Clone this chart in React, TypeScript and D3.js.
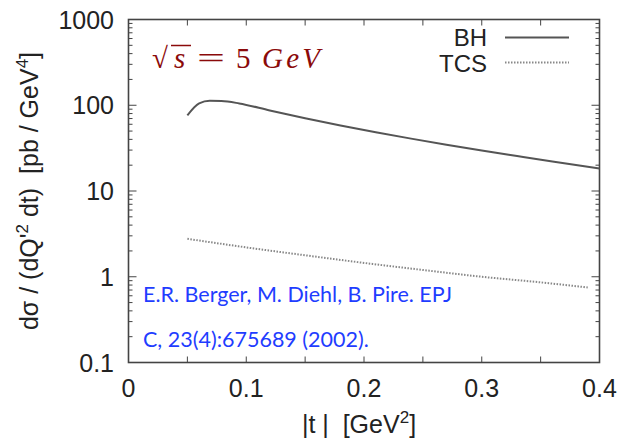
import React from "react";
import * as d3 from "d3";

const bhT = [0.05, 0.06, 0.069, 0.079, 0.094, 0.12, 0.15, 0.18, 0.21, 0.24, 0.27, 0.3, 0.33, 0.36, 0.4];
const bhV = [76, 105, 112.5, 112, 105, 86.9, 70.6, 58.2, 48.5, 40.8, 34.7, 29.7, 25.6, 22.1, 18.3];
const tcsT = [0.05, 0.1, 0.15, 0.2, 0.25, 0.3, 0.35, 0.39];
const tcsV = [2.77, 2.2, 1.78, 1.45, 1.2, 1.0, 0.86, 0.75];
const xTickLabels = [0, 0.1, 0.2, 0.3, 0.4];
const xTickMinor = [0, 0.05, 0.1, 0.15, 0.2, 0.25, 0.3, 0.35, 0.4];
const yTickLabels = [0.1, 1, 10, 100, 1000];
const legendNames = ["BH", "TCS"];

const W = 617, H = 438;
const L = 128.5, R = 599.5, T = 19.5, B = 362.5;

export default function App() {
  const x = d3.scaleLinear().domain([0, 0.4]).range([L, R]);
  const y = d3.scaleLog().domain([0.1, 1000]).range([B, T]);
  const line = d3.line<[number, number]>().x(d => x(d[0])).y(d => y(d[1])).curve(d3.curveMonotoneX);
  const bh = bhT.map((t, i) => [t, bhV[i]] as [number, number]);
  const tcs = tcsT.map((t, i) => [t, tcsV[i]] as [number, number]);
  const minor: number[] = [];
  for (let e = -1; e < 3; e++) for (let k = 2; k <= 9; k++) minor.push(k * Math.pow(10, e));
  const frame = "#444";
  const sans = "'Liberation Sans', Arial, Helvetica, sans-serif";
  const fmt = (v: number) => (v === 0 ? "0" : String(v));
  return (
    <svg width={W} height={H} style={{ position: "absolute", left: 0, top: 0 }}>
      <rect x={0} y={0} width={W} height={H} fill="#fff" />
      {xTickMinor.map((t, i) => (
        <g key={"xt" + i} stroke={frame} strokeWidth={1}>
          <line x1={x(t)} x2={x(t)} y1={B} y2={B - 6} />
          <line x1={x(t)} x2={x(t)} y1={T} y2={T + 6} />
        </g>
      ))}
      {yTickLabels.map((v, i) => (
        <g key={"yt" + i} stroke={frame} strokeWidth={1}>
          <line x1={L} x2={L + 8} y1={y(v)} y2={y(v)} />
          <line x1={R} x2={R - 8} y1={y(v)} y2={y(v)} />
        </g>
      ))}
      {minor.map((v, i) => (
        <g key={"ym" + i} stroke={frame} strokeWidth={1}>
          <line x1={L} x2={L + 4} y1={y(v)} y2={y(v)} />
          <line x1={R} x2={R - 4} y1={y(v)} y2={y(v)} />
        </g>
      ))}
      <rect x={L} y={T} width={R - L} height={B - T} fill="none" stroke={frame} strokeWidth={1.6} />
      {xTickLabels.map((t, i) => (
        <text key={"xl" + i} x={x(t)} y={397} textAnchor="middle" fontFamily={sans} fontSize={25} fill="#222">{fmt(t)}</text>
      ))}
      {yTickLabels.map((v, i) => (
        <text key={"yl" + i} x={114} y={y(v) + 9} textAnchor="end" fontFamily={sans} fontSize={25} fill="#222">{fmt(v)}</text>
      ))}
      <text x={359} y={433} textAnchor="middle" fontFamily={sans} fontSize={25} fill="#222" xmlSpace="preserve">
        |t |  [GeV<tspan dy={-10} fontSize={17}>2</tspan><tspan dy={10}>]</tspan>
      </text>
      <text transform="translate(38,191) rotate(-90)" textAnchor="middle" fontFamily={sans} fontSize={25} fill="#222" xmlSpace="preserve">
        dσ / (dQ'<tspan dy={-10} fontSize={17}>2</tspan><tspan dy={10}> dt)  [pb / GeV</tspan><tspan dy={-10} fontSize={17}>4</tspan><tspan dy={10}>]</tspan>
      </text>
      <path d={line(bh) || ""} fill="none" stroke="#555" strokeWidth={2} />
      <path d={line(tcs) || ""} fill="none" stroke="#888" strokeWidth={2} strokeDasharray="1.5,1.5" />
      <text x={487} y={46} textAnchor="end" fontFamily={sans} fontSize={24} fill="#222">{legendNames[0]}</text>
      <line x1={505} x2={569} y1={37.5} y2={37.5} stroke="#555" strokeWidth={2} />
      <text x={487} y={72} textAnchor="end" fontFamily={sans} fontSize={24} fill="#222">{legendNames[1]}</text>
      <line x1={505} x2={569} y1={62.5} y2={62.5} stroke="#888" strokeWidth={2} strokeDasharray="1.5,1.5" />
      <g fill="#8b0a0a" fontFamily="Liberation Serif, DejaVu Serif, serif" fontSize={29}>
        <text x={152} y={68}>√</text>
        <line x1={171} x2={191} y1={45.5} y2={45.5} stroke="#8b0a0a" strokeWidth={1.5} />
        <text x={174} y={68} fontStyle="italic">s</text>
        <text x={197} y={68} textLength={28} lengthAdjust="spacingAndGlyphs">=</text>
        <text x={236} y={68}>5</text>
        <text x={262} y={68} fontStyle="italic" textLength={58} lengthAdjust="spacing">GeV</text>
      </g>
      <g fill="#1f3dff" fontFamily="Lato, Noto Sans, sans-serif" fontSize={21.5}>
        <text x={143} y={302}>E.R. Berger, M. Diehl, B. Pire. EPJ</text>
        <text x={143} y={347}>C, 23(4):675689 (2002).</text>
      </g>
    </svg>
  );
}
